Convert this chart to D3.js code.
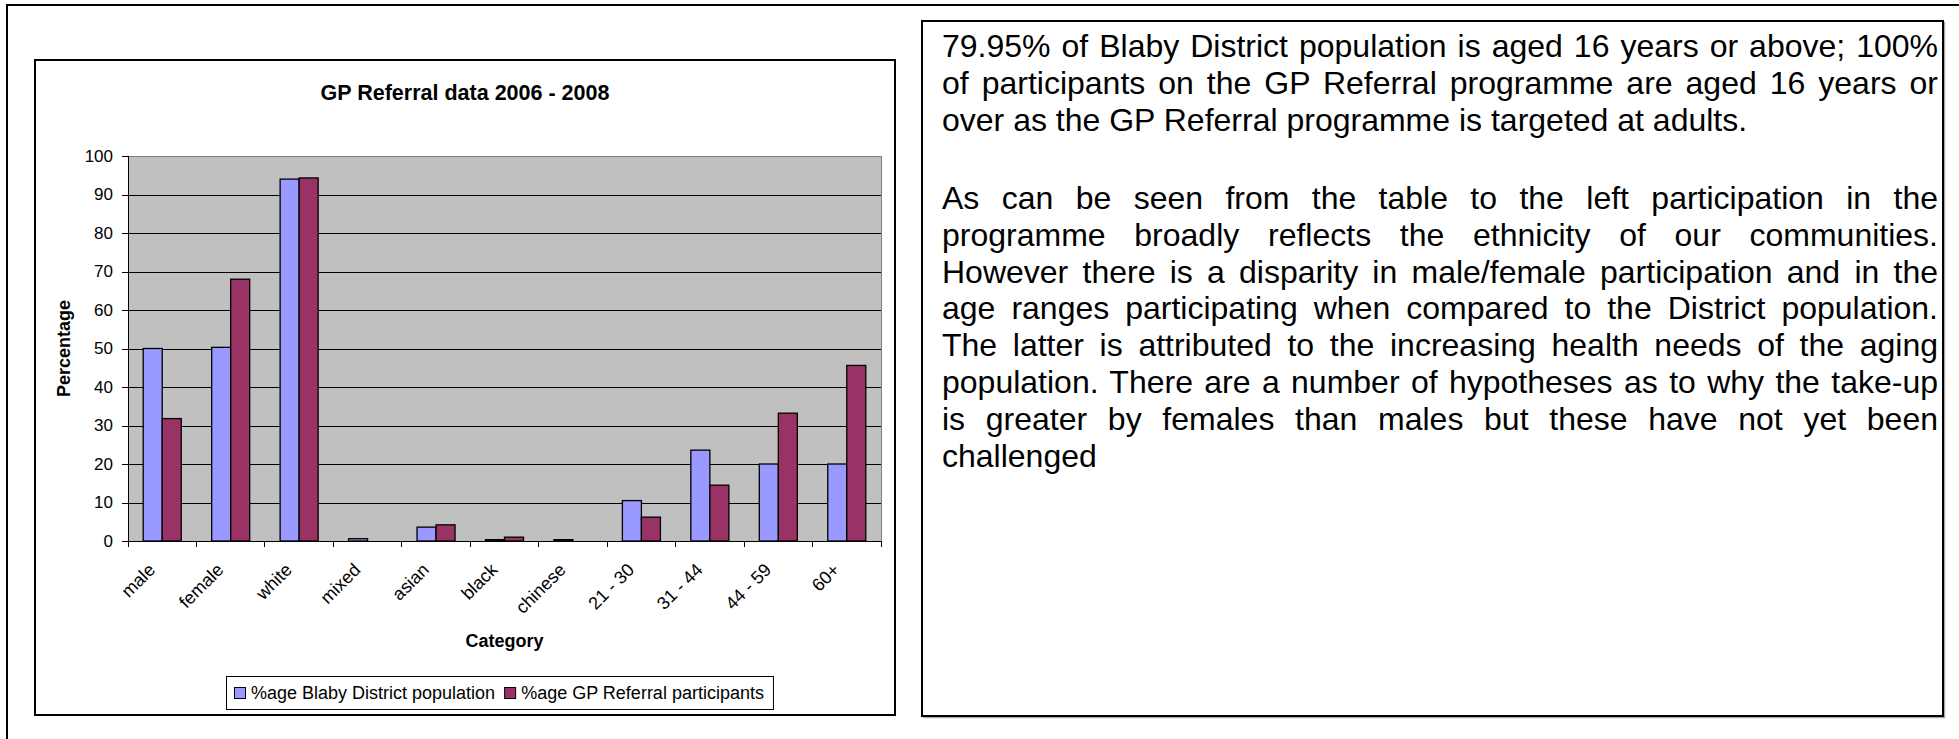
<!DOCTYPE html>
<html>
<head>
<meta charset="utf-8">
<script src="https://cdn.jsdelivr.net/npm/d3@7"></script>
<style>
body { margin: 0; background: #fff; font-family: "Liberation Sans", Arial, sans-serif; }
#page { position: relative; width: 1959px; height: 739px; overflow: hidden; }
#chart { position: absolute; left: 0; top: 0; }
.note { position: absolute; left: 942px; width: 996px; font-size: 32px; line-height: 36.8px; color: #000; }
#note1 { top: 28px; }
#note2 { top: 180px; }
.note .j { text-align: justify; text-align-last: justify; }
</style>
</head>
<body>
<div id="page">
	<svg id="chart"></svg>
	<div id="note1" class="note"></div>
	<div id="note2" class="note"></div>
</div>
<script>
var categories = ["male", "female", "white", "mixed", "asian", "black", "chinese", "21 - 30", "31 - 44", "44 - 59", "60+"];
var blabyPct = [50.0, 50.3, 94.0, 0.6, 3.6, 0.35, 0.35, 10.5, 23.6, 20.0, 20.0];
var gpPct = [31.8, 68.0, 94.3, 0, 4.2, 1.0, 0, 6.2, 14.5, 33.2, 45.6];
var seriesNames = ["%age Blaby District population", "%age GP Referral participants"];
var seriesColors = ["#9999ff", "#993366"];
var yTicks = [0, 10, 20, 30, 40, 50, 60, 70, 80, 90, 100];

var noteLines1 = [
	"79.95% of Blaby District population is aged 16 years or above; 100%",
	"of participants on the GP Referral programme are aged 16 years or",
	"over as the GP Referral programme is targeted at adults."
];
var noteLines2 = [
	"As can be seen from the table to the left participation in the",
	"programme broadly reflects the ethnicity of our communities.",
	"However there is a disparity in male/female participation and in the",
	"age ranges participating when compared to the District population.",
	"The latter is attributed to the increasing health needs of the aging",
	"population. There are a number of hypotheses as to why the take-up",
	"is greater by females than males but these have not yet been",
	"challenged"
];

var W = 1959, H = 739;
var plot = {left: 128, right: 881, top: 156, bottom: 541};
var font = "'Liberation Sans', Arial, sans-serif";

var svg = d3.select("#chart")
	.attr("width", W)
	.attr("height", H)
	.attr("font-family", font);

// page frame (only top and left edges are visible)
svg.append("path")
	.attr("d", "M7," + H + "V5H" + W)
	.attr("fill", "none")
	.attr("stroke", "#000")
	.attr("stroke-width", 2);

// chart frame
svg.append("rect")
	.attr("x", 35).attr("y", 60)
	.attr("width", 860).attr("height", 655)
	.attr("fill", "#fff")
	.attr("stroke", "#000")
	.attr("stroke-width", 2);

// text box frame with a faint shadow
svg.append("rect")
	.attr("x", 923.5).attr("y", 22.5)
	.attr("width", 1021).attr("height", 695)
	.attr("fill", "none")
	.attr("stroke", "#aaa")
	.attr("stroke-width", 1.5);
svg.append("rect")
	.attr("x", 922).attr("y", 21)
	.attr("width", 1021).attr("height", 695)
	.attr("fill", "#fff")
	.attr("stroke", "#000")
	.attr("stroke-width", 2);

var x = d3.scaleBand()
	.domain(categories)
	.range([plot.left, plot.right]);

var barW = x.bandwidth() / 3.6;
var xs = d3.scaleBand()
	.domain([0, 1])
	.range([0, 2 * barW]);
var groupOffset = (x.bandwidth() - 2 * barW) / 2;

var y = d3.scaleLinear()
	.domain([0, 100])
	.range([plot.bottom, plot.top]);

// plot area
svg.append("rect")
	.attr("x", plot.left + 0.5).attr("y", plot.top + 0.5)
	.attr("width", plot.right - plot.left).attr("height", plot.bottom - plot.top)
	.attr("fill", "#c0c0c0")
	.attr("stroke", "#808080")
	.attr("stroke-width", 1);

// gridlines
var grid = d3.axisLeft(y)
	.tickValues(yTicks.slice(1, -1))
	.tickSize(-(plot.right - plot.left))
	.tickFormat("");
var gridG = svg.append("g")
	.attr("transform", "translate(" + plot.left + ",0)")
	.call(grid);
gridG.select(".domain").remove();
gridG.selectAll("line").attr("stroke", "#000").attr("shape-rendering", "crispEdges");

// bars
var series = [blabyPct, gpPct];
series.forEach(function (vals, s) {
	svg.append("g")
		.selectAll("rect")
		.data(categories.map(function (c, i) { return {c: c, v: vals[i]}; }).filter(function (d) { return d.v > 0; }))
		.join("rect")
		.attr("x", d => x(d.c) + groupOffset + xs(s))
		.attr("y", d => y(d.v))
		.attr("width", xs.bandwidth())
		.attr("height", d => y(0) - y(d.v))
		.attr("fill", seriesColors[s])
		.attr("stroke", "#000")
		.attr("stroke-width", 1.3);
});

// y axis
var yAxisG = svg.append("g")
	.attr("transform", "translate(" + plot.left + ",0)")
	.call(d3.axisLeft(y).tickValues(yTicks).tickSize(6).tickPadding(9));
yAxisG.selectAll("text")
	.attr("font-size", "17px")
	.attr("font-family", font)
	.attr("fill", "#000");
yAxisG.selectAll("line, path").attr("stroke", "#000").attr("shape-rendering", "crispEdges");

// x axis: line, ticks at the band edges, rotated labels
var xAxisG = svg.append("g");
xAxisG.append("line")
	.attr("x1", plot.left).attr("x2", plot.right)
	.attr("y1", y(0)).attr("y2", y(0))
	.attr("stroke", "#000")
	.attr("shape-rendering", "crispEdges");
var edges = categories.map(c => x(c)).concat([x(categories[categories.length - 1]) + x.bandwidth()]);
xAxisG.selectAll(".tk")
	.data(edges)
	.join("line")
	.attr("class", "tk")
	.attr("x1", d => d).attr("x2", d => d)
	.attr("y1", y(0)).attr("y2", y(0) + 6)
	.attr("stroke", "#000")
	.attr("shape-rendering", "crispEdges");
xAxisG.selectAll(".lbl")
	.data(categories)
	.join("text")
	.attr("class", "lbl")
	.attr("transform", d => "translate(" + (x(d) + x.bandwidth() / 2 - 6) + "," + (y(0) + 30) + ") rotate(-45)")
	.attr("text-anchor", "end")
	.attr("font-size", "18px")
	.text(d => d);

// titles
svg.append("text")
	.attr("x", 465).attr("y", 100)
	.attr("text-anchor", "middle")
	.attr("font-weight", "bold")
	.attr("font-size", "21.5px")
	.text("GP Referral data 2006 - 2008");

svg.append("text")
	.attr("x", (plot.left + plot.right) / 2).attr("y", 647)
	.attr("text-anchor", "middle")
	.attr("font-weight", "bold")
	.attr("font-size", "18px")
	.text("Category");

svg.append("text")
	.attr("transform", "translate(70," + (plot.top + plot.bottom) / 2 + ") rotate(-90)")
	.attr("text-anchor", "middle")
	.attr("font-weight", "bold")
	.attr("font-size", "18px")
	.text("Percentage");

// legend
var legX = 226, legY = 676, legH = 33;
var legBox = svg.append("rect")
	.attr("x", legX + 0.5).attr("y", legY + 0.5)
	.attr("height", legH)
	.attr("fill", "#fff")
	.attr("stroke", "#000")
	.attr("stroke-width", 1);
var cx = legX + 8;
seriesNames.forEach(function (name, s) {
	svg.append("rect")
		.attr("x", cx + 0.5).attr("y", legY + 11.5)
		.attr("width", 11).attr("height", 11)
		.attr("fill", seriesColors[s])
		.attr("stroke", "#000")
		.attr("stroke-width", 1);
	var t = svg.append("text")
		.attr("x", cx + 17).attr("y", legY + 23)
		.attr("font-size", "18px")
		.text(name);
	cx = cx + 17 + t.node().getComputedTextLength() + 9;
});
legBox.attr("width", cx - legX);

// text box contents
function fillNote(sel, lines) {
	lines.forEach(function (l, i) {
		sel.append("div").attr("class", i < lines.length - 1 ? "j" : "").text(l);
	});
}
fillNote(d3.select("#note1"), noteLines1);
fillNote(d3.select("#note2"), noteLines2);
</script>
</body>
</html>
